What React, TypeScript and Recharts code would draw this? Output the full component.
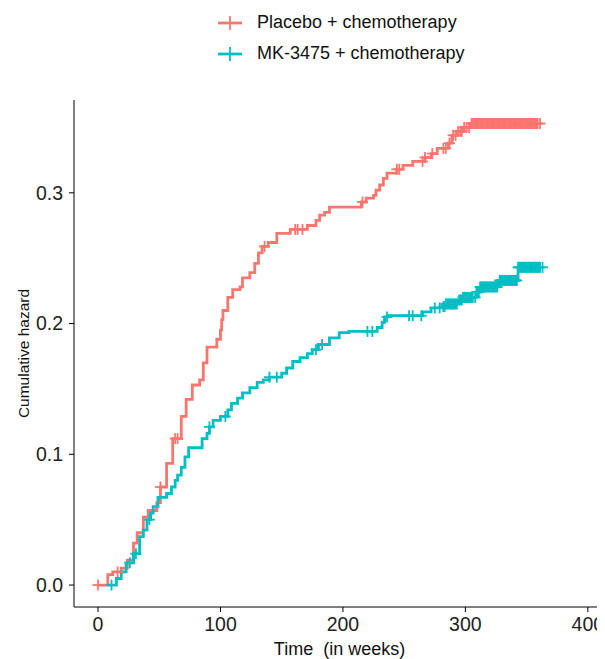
import { ComposedChart, Line, Scatter, XAxis, YAxis, Label } from 'recharts';

// Placebo + chemotherapy: step times (weeks) and cumulative hazard after each step
const placeboTimes = [0, 8, 12, 19, 24, 29, 32, 37, 41, 48, 51, 56, 61, 68, 72, 77, 83, 86, 89, 97, 100, 101, 102, 106, 110, 116, 118, 124, 128, 131, 134, 139, 146, 157, 171, 178, 181, 185, 189, 215, 219, 225, 227, 230, 233, 236, 244, 249, 257, 267, 272, 277, 286, 289, 293, 298, 304, 361];
const placeboHazard = [0, 0.008, 0.010, 0.013, 0.019, 0.032, 0.040, 0.052, 0.057, 0.063, 0.075, 0.093, 0.112, 0.129, 0.142, 0.153, 0.157, 0.170, 0.182, 0.188, 0.195, 0.203, 0.210, 0.220, 0.226, 0.228, 0.235, 0.239, 0.246, 0.254, 0.259, 0.262, 0.269, 0.272, 0.275, 0.279, 0.283, 0.285, 0.289, 0.293, 0.296, 0.298, 0.302, 0.306, 0.311, 0.315, 0.318, 0.321, 0.324, 0.327, 0.330, 0.334, 0.338, 0.344, 0.347, 0.350, 0.353, 0.353];
const placeboCensor = [0, 16, 51, 63, 65, 136, 161, 163, 167, 216, 244, 246, 265, 267, 273, 282, 284, 287, 290, 292, 294, 296, 297, 299, 301, 303, 305, 306, 307, 308, 309, 310, 311, 312, 313, 314, 315, 316, 317, 318, 319, 320, 321, 322, 323, 324, 325, 326, 327, 328, 329, 330, 331, 332, 333, 334, 335, 336, 337, 338, 339, 340, 341, 342, 343, 344, 345, 346, 347, 348, 349, 350, 351, 352, 353, 354, 355, 356, 357, 358, 359, 361];

// MK-3475 + chemotherapy
const mkTimes = [8, 15, 19, 23, 29, 34, 37, 40, 43, 45, 49, 56, 60, 63, 65, 68, 71, 74, 85, 89, 91, 94, 100, 106, 109, 114, 118, 124, 130, 135, 140, 150, 154, 159, 165, 171, 175, 180, 189, 197, 205, 228, 232, 234, 237, 265, 272, 281, 284, 294, 298, 309, 312, 327, 343, 363];
const mkHazard = [0, 0.005, 0.010, 0.017, 0.024, 0.037, 0.042, 0.050, 0.055, 0.060, 0.067, 0.070, 0.075, 0.080, 0.084, 0.090, 0.098, 0.105, 0.112, 0.116, 0.121, 0.126, 0.129, 0.134, 0.139, 0.143, 0.147, 0.151, 0.155, 0.157, 0.159, 0.162, 0.166, 0.171, 0.174, 0.177, 0.180, 0.184, 0.189, 0.193, 0.194, 0.197, 0.201, 0.205, 0.206, 0.209, 0.212, 0.213, 0.215, 0.218, 0.220, 0.224, 0.228, 0.233, 0.243, 0.243];
const mkCensor = [11, 26, 31, 42, 91, 104, 140, 146, 178, 183, 220, 224, 236, 254, 257, 264, 275, 279, 282, 283, 284, 285, 286, 287, 288, 289, 290, 291, 292, 293, 295, 296, 297, 298, 299, 300, 301, 302, 303, 304, 305, 306, 308, 309, 310, 311, 312, 313, 314, 315, 316, 317, 318, 319, 320, 321, 322, 323, 324, 325, 326, 328, 329, 330, 331, 332, 333, 334, 335, 336, 337, 338, 339, 340, 341, 342, 343, 344, 345, 346, 347, 348, 349, 350, 351, 352, 353, 354, 355, 356, 357, 358, 359, 360, 361, 363];

const xTicks = [0, 100, 200, 300, 400];
const yTicks = [0, 0.1, 0.2, 0.3];

const RED = '#F8766D';
const TEAL = '#00BFC4';

const stepAt = (times: number[], vals: number[], t: number) => {
  let v = vals[0];
  for (let i = 0; i < times.length; i++) {
    if (times[i] <= t) v = vals[i];
  }
  return v;
};

const placeboSteps = placeboTimes.map((t, i) => ({ t, h: placeboHazard[i] }));
const mkSteps = mkTimes.map((t, i) => ({ t, h: mkHazard[i] }));
const placeboMarks = placeboCensor.map((t) => ({ t, h: stepAt(placeboTimes, placeboHazard, t) }));
const mkMarks = mkCensor.map((t) => ({ t, h: stepAt(mkTimes, mkHazard, t) }));

const plus = (color: string) => (props: any) => {
  const { cx, cy } = props;
  if (cx == null || cy == null) return <g />;
  return (
    <g stroke={color} strokeWidth={1.8}>
      <line x1={cx - 5.5} x2={cx + 5.5} y1={cy} y2={cy} />
      <line x1={cx} x2={cx} y1={cy - 5.5} y2={cy + 5.5} />
    </g>
  );
};

const LegendItem = ({ color, label }: { color: string; label: string }) => (
  <div style={{ display: 'flex', alignItems: 'center', height: 31 }}>
    <svg width={39} height={20}>
      <line x1={0} x2={24} y1={10} y2={10} stroke={color} strokeWidth={2.8} />
      <line x1={12} x2={12} y1={3} y2={17} stroke={color} strokeWidth={1.8} />
    </svg>
    <span style={{ fontSize: 18, color: '#111', whiteSpace: 'nowrap' }}>{label}</span>
  </div>
);

export default function App() {
  const font = '"Liberation Sans", Arial, sans-serif';
  return (
    <div style={{ position: 'relative', width: 597, height: 651, fontFamily: font }}>
      <div style={{ position: 'absolute', left: 210, top: -1 }}>
        <LegendItem color={RED} label="Placebo + chemotherapy" />
        <LegendItem color={TEAL} label="MK-3475 + chemotherapy" />
      </div>
      <ComposedChart width={597} height={651} margin={{ top: 92, right: 0, left: 0, bottom: 0 }}>
        <XAxis
          type="number"
          dataKey="t"
          domain={[-19.6, 414]}
          ticks={xTicks}
          allowDataOverflow
          height={52}
          tickSize={5}
          tickMargin={5}
          stroke="#000"
          tick={{ fill: '#222', fontSize: 19.5, fontFamily: font }}
        >
          <Label value={'Time\u00a0 (in weeks)'} position="insideBottom" offset={4} style={{ fill: '#111', fontSize: 18, fontFamily: font }} />
        </XAxis>
        <YAxis
          type="number"
          domain={[-0.0168, 0.371]}
          ticks={yTicks}
          allowDataOverflow
          width={66}
          tickSize={5}
          tickMargin={6}
          stroke="#000"
          tickFormatter={(v: number) => v.toFixed(1)}
          tick={{ fill: '#222', fontSize: 19.5, fontFamily: font }}
        >
          <Label value="Cumulative hazard" angle={-90} position="insideLeft" offset={15} style={{ textAnchor: 'middle', fill: '#111', fontSize: 15.5, fontFamily: font }} />
        </YAxis>
        <Line data={placeboSteps} dataKey="h" type="stepAfter" stroke={RED} strokeWidth={2.8} dot={false} isAnimationActive={false} />
        <Scatter data={placeboMarks} dataKey="h" shape={plus(RED)} isAnimationActive={false} />
        <Line data={mkSteps} dataKey="h" type="stepAfter" stroke={TEAL} strokeWidth={2.8} dot={false} isAnimationActive={false} />
        <Scatter data={mkMarks} dataKey="h" shape={plus(TEAL)} isAnimationActive={false} />
      </ComposedChart>
    </div>
  );
}
